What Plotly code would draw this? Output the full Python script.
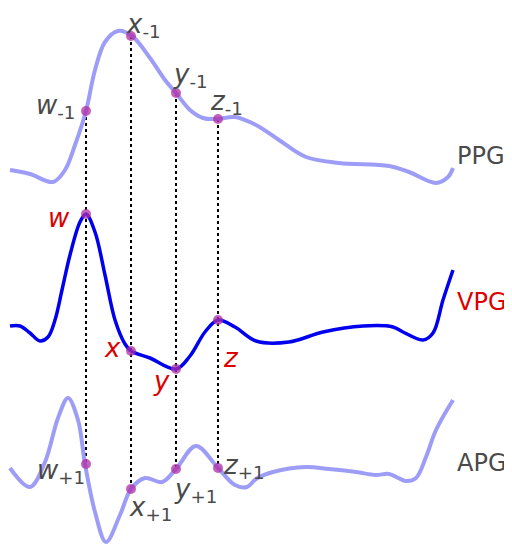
import plotly.graph_objects as go

# traces (t = horizontal position, value = vertical position, downwards)
ppg_t = [10, 30, 53, 65, 75, 86, 95, 105, 118, 132, 150, 165, 176, 190, 203, 217, 235, 256, 279, 306, 339, 389, 409, 436, 448, 453]
ppg_v = [170, 174, 182, 170, 145, 111, 70, 42, 31, 36, 58, 80, 93, 110, 118, 119, 117, 125, 140, 157, 163, 166, 172, 183, 177, 168]

vpg_t = [10, 20, 30, 40, 48, 55, 62, 70, 80, 86, 95, 105, 115, 125, 131, 150, 176, 190, 205, 218, 235, 256, 289, 323, 363, 393, 403, 423, 433, 443, 453]
vpg_v = [326, 326, 333, 341, 337, 320, 290, 255, 222, 214, 232, 275, 320, 344, 351, 358, 369, 356, 332, 320, 327, 341, 342, 332, 326, 327, 332, 340, 333, 300, 270]

apg_t = [10, 30, 45, 58, 68, 78, 85, 95, 106, 120, 131, 145, 162, 176, 196, 218, 235, 247, 256, 273, 306, 329, 356, 376, 389, 406, 416, 426, 436, 453]
apg_v = [468, 487, 462, 418, 398, 420, 464, 512, 542, 515, 489, 478, 482, 469, 446, 468, 485, 487, 479, 472, 467, 469, 472, 475, 474, 481, 478, 457, 430, 400]

# characteristic points, same time on all three curves
pt_t = [86, 131, 176, 218]
ppg_pts = [111, 36, 93, 119]
vpg_pts = [214, 351, 369, 320]
apg_pts = [464, 489, 469, 468]

names = ["w", "x", "y", "z"]

light = "#9d9df7"
dot = "rgba(175,45,165,0.75)"
gray = "#4a4a4a"
red = "#dd0000"

fig = go.Figure()

# dotted guides
for t, top, bot in zip(pt_t, ppg_pts, apg_pts):
    fig.add_trace(go.Scatter(x=[t, t], y=[top, bot], mode="lines",
                             line=dict(color="black", width=2, dash="dot")))

fig.add_trace(go.Scatter(x=ppg_t, y=ppg_v, mode="lines",
                         line=dict(color=light, width=4, shape="spline", smoothing=1)))
fig.add_trace(go.Scatter(x=vpg_t, y=vpg_v, mode="lines",
                         line=dict(color="#0000ee", width=3.5, shape="spline", smoothing=1)))
fig.add_trace(go.Scatter(x=apg_t, y=apg_v, mode="lines",
                         line=dict(color=light, width=4, shape="spline", smoothing=1)))

for ys in (ppg_pts, vpg_pts, apg_pts):
    fig.add_trace(go.Scatter(x=pt_t, y=ys, mode="markers",
                             marker=dict(color=dot, size=10)))

fnt = "DejaVu Sans"
ann = []
# upper labels (-1)
up_pos = [(77, 106, "right"), (124, 25, "left"), (171, 75, "left"), (208, 102, "left")]
for n, (x, y, a) in zip(names, up_pos):
    ann.append(dict(x=x, y=y, xanchor=a, yanchor="middle",
                    text="<i>%s</i><sub>-1</sub>" % n,
                    font=dict(family=fnt, size=26, color=gray)))
# lower labels (+1)
lo_pos = [(87, 471, "right"), (127, 508, "left"), (172, 490, "left"), (221, 466, "left")]
for n, (x, y, a) in zip(names, lo_pos):
    ann.append(dict(x=x, y=y, xanchor=a, yanchor="middle",
                    text="<i>%s</i><sub>+1</sub>" % n,
                    font=dict(family=fnt, size=26, color=gray)))
# red VPG labels
red_pos = [(59, 218), (112, 348), (161, 381), (231, 358)]
for n, (x, y) in zip(names, red_pos):
    ann.append(dict(x=x, y=y, xanchor="center", yanchor="middle",
                    text="<i>%s</i>" % n,
                    font=dict(family=fnt, size=26, color=red)))
# curve names
for txt, y, c in [("PPG", 156, gray), ("VPG", 302, red), ("APG", 463, gray)]:
    ann.append(dict(x=455, y=y, xanchor="left", yanchor="middle", text=txt,
                    font=dict(family=fnt, size=24, color=c)))

for a in ann:
    a.update(showarrow=False, xref="x", yref="y")

# the page puts the figure 8px in from the corner, so the ranges start at 8
fig.update_layout(
    width=512, height=550, margin=dict(l=0, r=0, t=0, b=0),
    paper_bgcolor="white", plot_bgcolor="white", showlegend=False,
    annotations=ann,
    xaxis=dict(range=[8, 520], visible=False),
    yaxis=dict(range=[558, 8], visible=False),
)

fig.write_html("out.html")
